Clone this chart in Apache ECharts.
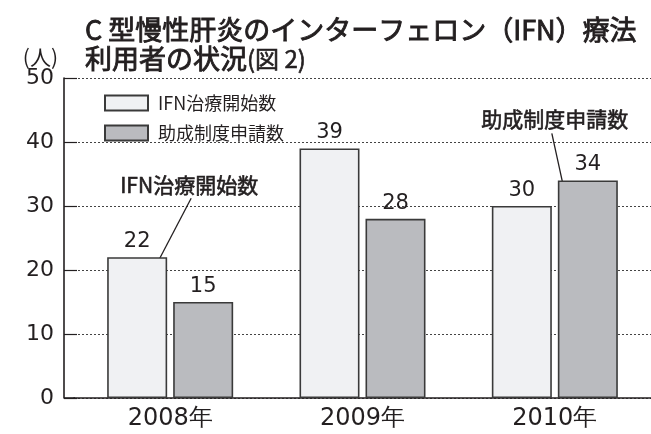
<!DOCTYPE html>
<html><head><meta charset="utf-8">
<script src="https://cdn.jsdelivr.net/npm/echarts@6/dist/echarts.min.js"></script>
<style>html,body{margin:0;padding:0;background:#fff}#c{width:651px;height:434px}</style>
</head><body><div id="c"></div>
<script>
const categories = ['2008年', '2009年', '2010年'];
const ifnStart = [22, 39, 30];
const subsidyApply = [15, 28, 34];
const seriesNames = ['IFN治療開始数', '助成制度申請数'];
const yTicks = [0, 10, 20, 30, 40, 50];

const FONT = 'DejaVu Sans';
const CJK = 'Noto Sans CJK JP';
const INK = '#231f20';

const chart = echarts.init(document.getElementById('c'), null, {renderer: 'canvas'});
const barStyle = (c) => ({color: c, borderColor: '#3a3a3a', borderWidth: 1.6});
chart.setOption({
  animation: false,
  title: {
    left: 80, top: 10,
    text: '{a|C 型慢性肝炎のインターフェロン（IFN）療法}\n{a|利用者の状況}{b|(図 2)}',
    textStyle: {
      rich: {
        a: {fontFamily: CJK, fontSize: 27, fontWeight: 'normal', color: INK, lineHeight: 29,
            textBorderColor: INK, textBorderWidth: 0.9},
        b: {fontFamily: CJK, fontSize: 24, fontWeight: 'normal', color: INK, lineHeight: 29,
            textBorderColor: INK, textBorderWidth: 0.6}
      }
    }
  },
  legend: {
    orient: 'vertical', left: 99, top: 89, itemWidth: 43, itemHeight: 15, itemGap: 12,
    icon: 'rect',
    textStyle: {fontFamily: CJK, fontSize: 18, color: INK, padding: [0, 0, 0, 5]},
    data: seriesNames
  },
  grid: {left: 74, right: -5, top: 78, bottom: 36, containLabel: false},
  xAxis: {
    type: 'category', data: categories,
    axisLine: {lineStyle: {color: INK, width: 1.6}},
    axisTick: {inside: true, length: 11, lineStyle: {color: INK, width: 1.2}, interval: (i) => i !== 0},
    axisLabel: {fontFamily: FONT, fontSize: 24, color: INK, margin: 9}
  },
  yAxis: {
    type: 'value', min: 0, max: 50, interval: 10, offset: 10,
    name: '(人)', nameLocation: 'end', nameGap: 9,
    nameTextStyle: {fontFamily: CJK, fontSize: 21, color: INK, align: 'right', padding: [0, 6, 0, 0]},
    axisLine: {show: true, lineStyle: {color: INK, width: 1.6}},
    axisTick: {show: true, inside: true, length: 13, lineStyle: {color: INK, width: 1.2}},
    axisLabel: {fontFamily: FONT, fontSize: 22, color: INK, margin: 10,
      formatter: (v) => yTicks.includes(v) ? String(v) : ''},
    splitLine: {show: true, lineStyle: {color: '#444', type: [2, 2], width: 1}}
  },
  series: [
    {name: seriesNames[0], type: 'bar', data: ifnStart, barWidth: 60, barGap: '10%',
      itemStyle: barStyle('#f0f1f3'),
      label: {show: true, position: 'top', distance: 5, fontFamily: FONT, fontSize: 21, color: INK}},
    {name: seriesNames[1], type: 'bar', data: subsidyApply, barWidth: 60,
      itemStyle: barStyle('#babbbf'),
      label: {show: true, position: 'top', distance: 5, fontFamily: FONT, fontSize: 21, color: INK}}
  ]
});

// annotations anchored to the bars via the chart's own coordinate conversion
const half = 33; // half of (barWidth + gap)
const p0 = chart.convertToPixel({seriesIndex: 0}, [0, ifnStart[0]]);
const p1 = chart.convertToPixel({seriesIndex: 1}, [2, subsidyApply[2]]);
const zero = chart.convertToPixel({seriesIndex: 0}, [0, 0]);
const ifnBar = {x: p0[0] - half, y: p0[1]};
const subBar = {x: p1[0] + half, y: p1[1]};
const annStyle = {fontFamily: CJK, fontSize: 21, fontWeight: 'normal', fill: INK, stroke: INK, lineWidth: 0.6,
  align: 'center', verticalAlign: 'middle'};
chart.setOption({
  graphic: [
    {type: 'line', shape: {x1: 64, y1: zero[1], x2: 75, y2: zero[1]}, style: {stroke: INK, lineWidth: 1.6}},
    {type: 'line', shape: {x1: ifnBar.x + 54, y1: ifnBar.y - 59, x2: ifnBar.x + 20, y2: ifnBar.y + 6},
      style: {stroke: INK, lineWidth: 1.3}},
    {type: 'text', x: ifnBar.x + 52, y: ifnBar.y - 72,
      style: Object.assign({text: seriesNames[0]}, annStyle)},
    {type: 'line', shape: {x1: subBar.x - 36, y1: subBar.y - 47, x2: subBar.x - 24, y2: subBar.y + 8},
      style: {stroke: INK, lineWidth: 1.3}},
    {type: 'text', x: subBar.x - 33, y: subBar.y - 61,
      style: Object.assign({text: seriesNames[1]}, annStyle)}
  ]
});
</script></body></html>
